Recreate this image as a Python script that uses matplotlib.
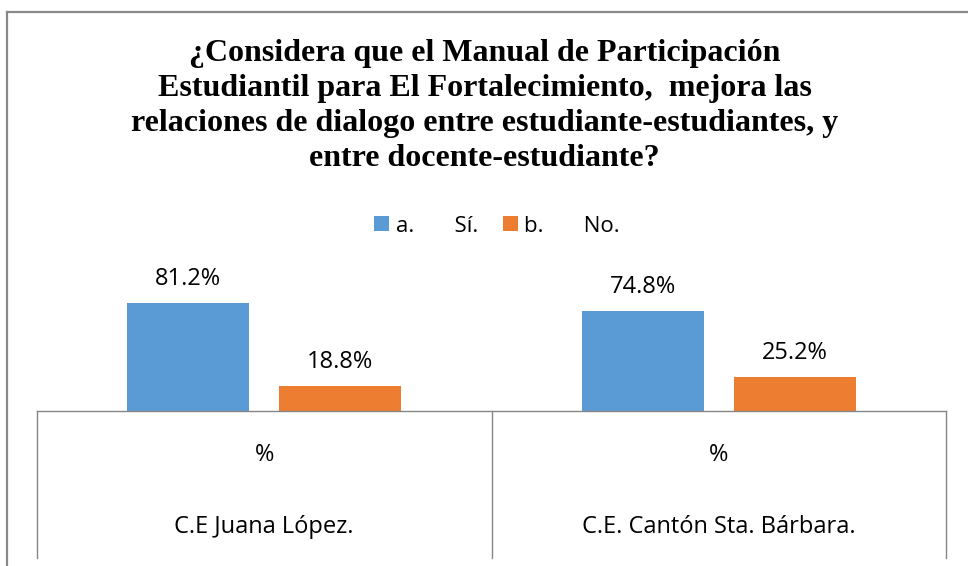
import matplotlib
matplotlib.use("Agg")
import matplotlib.pyplot as plt
from matplotlib.patches import Patch
from matplotlib.lines import Line2D
import numpy as np

categories = ["C.E Juana López.", "C.E. Cantón Sta. Bárbara."]
sub_label = ["%", "%"]
series_names = ["a.       Sí.", "b.       No."]
si_values = [81.2, 74.8]
no_values = [18.8, 25.2]
title = ("¿Considera que el Manual de Participación\n"
         "Estudiantil para El Fortalecimiento,  mejora las\n"
         "relaciones de dialogo entre estudiante-estudiantes, y\n"
         "entre docente-estudiante?")

W, H = 968, 566
fig = plt.figure(figsize=(W / 100, H / 100), dpi=100)
fig.patch.set_facecolor("white")

sans = "Open Sans"
blue = "#5B9BD5"
orange = "#ED7D31"
gridc = "#868686"

# axes placement in pixels
ax_left, ax_right = 37, 946
ax_base = 411
px_per_unit = 1.335
ax_h = 100 * px_per_unit
ax = fig.add_axes([ax_left / W, 1 - ax_base / H, (ax_right - ax_left) / W, ax_h / H])
ax.set_xlim(-0.5, 1.5)
ax.set_ylim(0, 100)
ax.axis("off")

x = np.arange(len(categories))
bw = 0.268
off = 0.167
b1 = ax.bar(x - off, si_values, bw, color=blue, label=series_names[0])
b2 = ax.bar(x + off, no_values, bw, color=orange, label=series_names[1])

for bars, vals in ((b1, si_values), (b2, no_values)):
    for r, v in zip(bars, vals):
        ax.annotate(f"{v:.1f}%", (r.get_x() + r.get_width() / 2, v),
                    xytext=(0, 24), textcoords="offset pixels",
                    ha="center", va="center", fontsize=17,
                    family=sans, color="black", annotation_clip=False)

# category table lines
tr = ax.get_xaxis_transform()
ax.plot([-0.5, 1.5], [0, 0], color=gridc, lw=1.0, transform=tr, clip_on=False)
tbl_bottom = -(558 - ax_base) / ax_h
for xv in (-0.5, 0.5, 1.5):
    ax.plot([xv, xv], [0, tbl_bottom], color=gridc, lw=1.0, transform=tr, clip_on=False)

y_pct = -(455 - ax_base) / ax_h
y_cat = -(527 - ax_base) / ax_h
for xi, s, c in zip(x, sub_label, categories):
    ax.text(xi, y_pct, s, transform=tr, ha="center", va="center",
            fontsize=17, family=sans, color="black")
    ax.text(xi, y_cat, c, transform=tr, ha="center", va="center",
            fontsize=17, family=sans, color="black")

# title
fig.text(484.5 / W, 1 - 106 / H, title, ha="center", va="center",
         family="Liberation Serif", fontweight="bold", fontsize=23,
         linespacing=1.26, color="black")

# legend
handles = [Patch(facecolor=blue, edgecolor="none"), Patch(facecolor=orange, edgecolor="none")]
fig.legend(handles, series_names, loc="center", bbox_to_anchor=(497 / W, 1 - 226 / H),
           ncol=2, frameon=False, prop={"family": sans, "size": 16},
           handlelength=0.68, handleheight=0.68, handletextpad=0.3, columnspacing=1.1)

# outer border (top and left visible)
fig.add_artist(Line2D([7 / W, 1.0], [1 - 12 / H, 1 - 12 / H], color="#898989", lw=1.6,
                      transform=fig.transFigure))
fig.add_artist(Line2D([7 / W, 7 / W], [1 - 12 / H, 0], color="#898989", lw=1.6,
                      transform=fig.transFigure))

fig.savefig("out.png", dpi=100, facecolor="white")
